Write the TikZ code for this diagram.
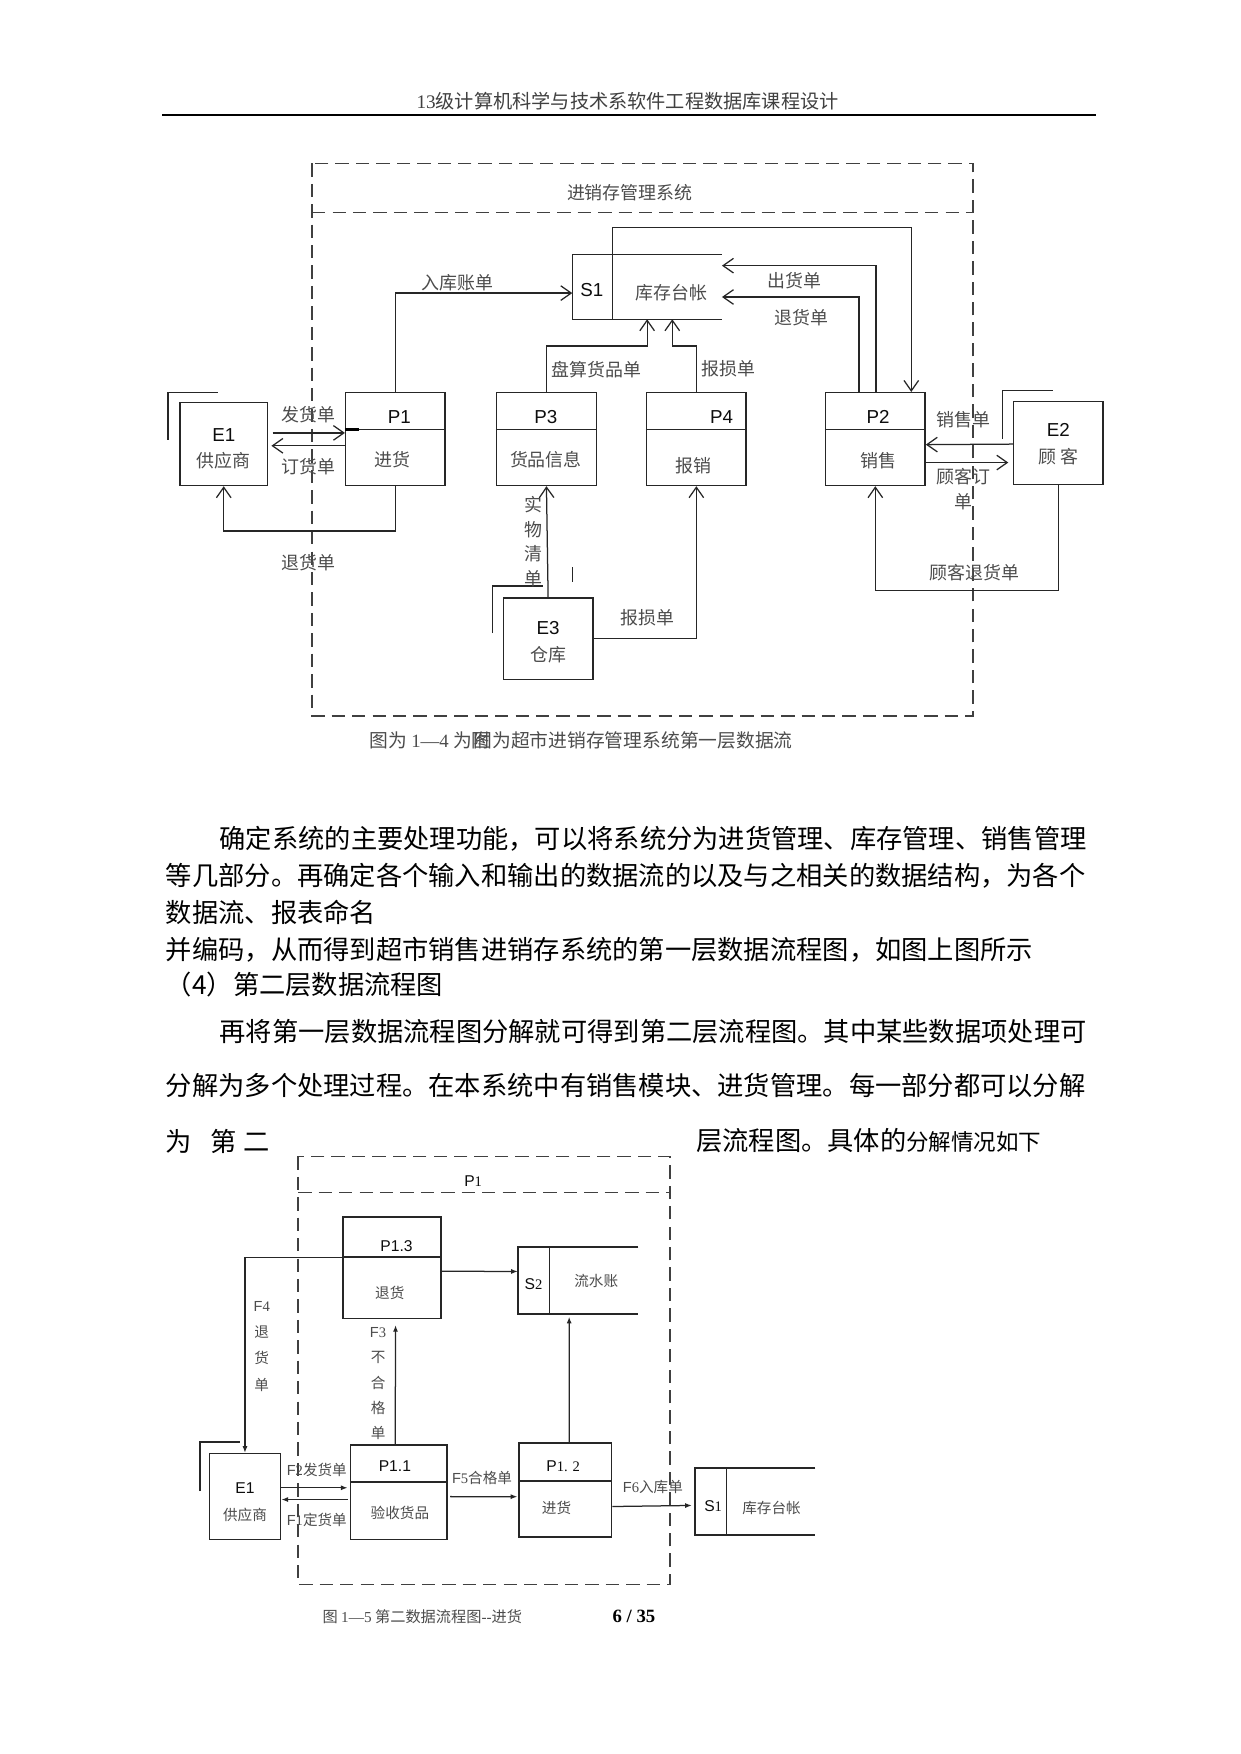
\documentclass[tikz,border=0pt]{standalone}
\usepackage{fontspec}
\setmainfont{Noto Sans CJK SC}
\newfontfamily\arial{Liberation Sans}
\newfontfamily\tnr{Liberation Serif}
\usetikzlibrary{arrows.meta,calc}

\newcommand\dfa{\fontsize{8.6pt}{10pt}\selectfont}
\newcommand\dfb{\fontsize{7pt}{8.5pt}\selectfont}
\newcommand\bodyf{\fontsize{12.6pt}{15pt}\selectfont}
\newcommand\sdig[1]{{\tnr\fontsize{7pt}{8pt}\selectfont #1}}

\tikzset{
  bound/.style={draw=black!75, line width=0.7pt, dash pattern=on 6.4pt off 3.4pt},
  line/.style={draw=black!85, line width=0.7pt},
  box/.style={draw=black!85, line width=0.7pt, inner sep=0pt},
  proc/.style={box, minimum width=47.75pt, minimum height=44.5pt},
  store/.style={inner sep=0pt, minimum width=71.4pt, minimum height=30.6pt},
  storeb/.style={inner sep=0pt, minimum width=57.4pt, minimum height=31.8pt},
  flow/.style={draw=black!85, line width=0.6pt, -{Straight Barb[length=5pt,width=7pt]}},
  flowb/.style={draw=black!85, line width=0.6pt, -{Latex[length=3.2pt,width=2.4pt]}},
  lbl/.style={inner sep=0pt, text=black!70, font=\dfa},
  lblb/.style={inner sep=0pt, text=black!70, font=\dfb},
  ida/.style={inner sep=0pt, text=black!95, font=\fontsize{9pt}{10pt}\selectfont\arial},
  idb/.style={inner sep=0pt, text=black!95, font=\fontsize{7.5pt}{9pt}\selectfont\arial},
  capt/.style={inner sep=0pt, anchor=west, text=black!70, font=\fontsize{9pt}{11pt}\selectfont},
  body/.style={inner sep=0pt, anchor=west, font=\bodyf},
}

\begin{document}
\begin{tikzpicture}[x=0.5365pt, y=-0.5365pt]
\fill[white] (0,0) rectangle (1109,1568);
\useasboundingbox (0,0) rectangle (1109,1568);

% 页眉
\node[inner sep=0pt, text=black!75, font=\fontsize{9.2pt}{11pt}\selectfont] (head) at (561,90) {{\tnr 13}级计算机科学与技术系软件工程数据库课程设计};
\draw[line width=1.1pt] (145,103) -- (980,103);

% 第一层数据流图
\draw[bound] (279,146) rectangle (870,640);
\draw[bound] (279,190) -- (870,190);
\node[lbl] (sys) at (563,172) {进销存管理系统};

% 库存台帐
\node[store] (s1) at (578.5,256.5) {};
\draw[line] (s1.north east) -- (s1.north west) -- (s1.south west) -- (s1.south east);
\draw[line] ($(s1.south west)+(36,0)$) -- ($(s1.north west)+(36,0)$);
\node[ida] (s1id) at (529,259) {S1};
\node[lbl] (s1txt) at (600,262) {库存台帐};

% 处理
\node[proc] (p1) at (353.5,392.5) {};
\node[proc] (p3) at (488.5,392.5) {};
\node[proc] (p4) at (622.5,392.5) {};
\node[proc] (p2) at (782.5,392.5) {};
\foreach \p in {p1,p3,p4,p2}
  \draw[line] ($(\p.north west)+(0,33.5)$) -- ($(\p.north east)+(0,33.5)$);

\node[ida] (p1id) at (357,373) {P1};
\node[lbl] (p1txt) at (351,411) {进货};
\node[ida] (p3id) at (488,373) {P3};
\node[lbl] (p3txt) at (488,411) {货品信息};
\node[ida] (p4id) at (645,373) {P4};
\node[lbl] (p4txt) at (620,416) {报销};
\node[ida] (p2id) at (785,373) {P2};
\node[lbl] (p2txt) at (785,412) {销售};

% 外部实体
\node[box, minimum width=41.8pt, minimum height=39.7pt] (e1) at (200,397) {};
\draw[line] (150,393) |- (195,351);
\node[ida] (e1id) at (200,389) {E1};
\node[lbl] (e1txt) at (200,412) {供应商};

\node[box, minimum width=42.9pt, minimum height=39.7pt] (e2) at (946,396) {};
\draw[line] (896,392) |- (941,349);
\node[ida] (e2id) at (946,384) {E2};
\node[lbl] (e2txt) at (946,408) {顾 客};

\node[box, minimum width=42.9pt, minimum height=38.9pt] (e3) at (490,571) {};
\draw[line] (440.5,566) |- (485,524);
\node[ida] (e3id) at (490,561) {E3};
\node[lbl] (e3txt) at (490,585) {仓库};

% 数据流
\draw[flow] (p1.north) |- ($(s1.west)+(0,5.5)$);
\node[lbl] (f-rk) at (409,253) {入库账单};
\draw[flow] ($(s1.north west)+(36,0)$) -- ++(0,-24) -| ($(p2.north east)+(-13,0)$);
\draw[flow] ($(p2.north)+(0.5,0)$) |- ($(s1.east)+(0,-19)$);
\node[lbl] (f-ch) at (710.5,251) {出货单};
\draw[flow] ($(p2.north)+(-14.5,0)$) |- ($(s1.east)+(0,9)$);
\node[lbl] (f-th) at (716.5,284) {退货单};
\draw[flow] (p3.north) -- ++(0,-41) -| (s1.south);
\node[lbl] (f-pd) at (533,330) {盘算货品单};
\draw[flow] (p4.north) -- ++(0,-41) -| ($(s1.south)+(22.5,0)$);
\node[lbl] (f-bs1) at (651,330) {报损单};

\draw[flow] ($(e1.east)+(4,-10)$) -- ($(p1.west)+(0,-5.5)$);
\node[lbl] (f-fh) at (276,371) {发货单};
\draw[flow] ($(p1.west)+(0,6)$) -- ($(e1.east)+(3,1.5)$);
\node[lbl] (f-dh) at (276,417) {订货单};
\draw[line width=1.4pt] ($(p1.north west)+(0,33.5)$) -- ++(13,0);
\draw[flow] (p1.south) -- ++(0,40) -| (e1.south);
\node[lbl] (f-th1) at (276,503) {退货单};

\draw[flow] (e3.north) -- (p3.south);
\node[lbl, align=center, font=\fontsize{8.6pt}{11.8pt}\selectfont] (f-sw) at (477,484) {实\\物\\清\\单};
\draw[line] (512,507) -- (512,520);
\draw[flow] (e3.east) -| (p4.south);
\node[lbl] (f-bs2) at (579,552) {报损单};

\draw[flow] ($(e2.west)+(0,1)$) -- ($(p2.east)+(0,5)$);
\node[lbl] (f-xs) at (861,375) {销售单};
\draw[flow] ($(p2.east)+(0,21)$) -- ($(e2.west)+(-4,17.5)$);
\node[lbl, align=center, font=\fontsize{8.6pt}{12pt}\selectfont] (f-gk) at (861,437) {顾客订\\单};
\draw[flow] (e2.south) -- ++(0,94) -| (p2.south);
\node[lbl] (f-gth) at (871,512) {顾客退货单};

% 图题
\node[capt] (cap1a) at (330,662) {图为 {\tnr 1—4} 为附};
\node[capt] (cap1b) at (423,662) {图为超市进销存管理系统第一层数据流};

% 正文
\node[body] (t1) at (196,750) {确定系统的主要处理功能，可以将系统分为进货管理、库存管理、销售管理};
\node[body] (t2) at (148,783) {等几部分。再确定各个输入和输出的数据流的以及与之相关的数据结构，为各个};
\node[body] (t3) at (148,816) {数据流、报表命名};
\node[body] (t4) at (148,849) {并编码，从而得到超市销售进销存系统的第一层数据流程图，如图上图所示};
\node[body] (t5) at (148,880.5) {（4）第二层数据流程图};
\node[body] (t6) at (196,922.5) {再将第一层数据流程图分解就可得到第二层流程图。其中某些数据项处理可};
\node[body] (t7) at (148,970.5) {分解为多个处理过程。在本系统中有销售模块、进货管理。每一部分都可以分解};
\node[body] (t8a) at (148,1020) {为\hspace{8.6pt}第\hspace{3.4pt}二};
\node[body] (t8b) at (622,1020) {层流程图。具体的{\fontsize{10.8pt}{13pt}\selectfont 分解情况如下}};

% 第二层数据流图
\draw[bound] (266.6,1033.7) rectangle (598.8,1416.4);
\draw[bound] (266.6,1066) -- (598.8,1066);
\node[idb] (p1top) at (423,1056) {P\sdig{1}};

\node[box, minimum width=47pt, minimum height=48.8pt] (p13) at (350.6,1133.4) {};
\node[box, minimum width=46.35pt, minimum height=45.4pt] (p11) at (356.6,1333.9) {};
\node[box, minimum width=44.3pt, minimum height=45.2pt] (p12) at (505.45,1331.95) {};
\foreach \p/\d in {p13/36.6,p11/34,p12/34.6}
  \draw[line] ($(\p.north west)+(0,\d)$) -- ($(\p.north east)+(0,\d)$);

\node[box, minimum width=34.2pt, minimum height=41.2pt] (e1b) at (219,1337.8) {};
\draw[line] (178.8,1333) |- (214.5,1288.9);

\node[storeb] (s2) at (516.8,1144.65) {};
\draw[line] (s2.north east) -- (s2.north west) -- (s2.south west) -- (s2.south east);
\draw[line] ($(s2.north west)+(28.3,0)$) -- ($(s2.south west)+(28.3,0)$);
\node[storeb] (s1b) at (675.05,1342.3) {};
\draw[line] (s1b.north east) -- (s1b.north west) -- (s1b.south west) -- (s1b.south east);
\draw[line] ($(s1b.north west)+(28.3,0)$) -- ($(s1b.south west)+(28.3,0)$);

\node[idb] (p13id) at (354.5,1114) {P1.3};
\node[lblb] (p13txt) at (348.5,1156) {退货};
\node[idb] (s2id) at (477,1148) {S\sdig{2}};
\node[lblb] (s2txt) at (533,1145) {流水账};
\node[idb] (p11id) at (353,1311) {P1.1};
\node[lblb] (p11txt) at (357.5,1352.4) {验收货品};
\node[idb] (p12id) at (503.5,1311) {P\sdig{1. 2}};
\node[lblb] (p12txt) at (497.5,1348) {进货};
\node[idb] (e1bid) at (219,1330) {E1};
\node[lblb] (e1btxt) at (219,1354) {供应商};
\node[idb] (s1bid) at (637.5,1346.4) {S\sdig{1}};
\node[lblb] (s1btxt) at (689.7,1348) {库存台帐};

\draw[flowb] ($(p13.north west)+(0,36.6)$) -| (e1b.north);
\node[lblb, align=center, font=\fontsize{7pt}{12.6pt}\selectfont] (f4) at (234,1203.5) {{\arial F}\sdig{4}\\退\\货\\单};
\draw[flowb] ($(p13.east)+(0,3)$) -- ($(s2.west)+(0,-8)$);
\draw[flowb] ($(p11.north)+(-3.3,0)$) -- ($(p13.south)+(3,5)$);
\node[lblb, align=center, font=\fontsize{7pt}{12.1pt}\selectfont] (f3) at (338,1237) {{\arial F}\sdig{3}\\不\\合\\格\\单};
\draw[flowb] ($(p12.north)+(3.35,0)$) -- ($(s2.south)+(-8,2.4)$);
\draw[flowb] ($(e1b.east)+(0,-7.8)$) -- ($(p11.west)+(-2,-3.9)$);
\node[lblb, anchor=west] (f2) at (256,1313.7) {{\arial F}\sdig{2}发货单};
\draw[flowb] ($(p11.west)+(-2,6.6)$) -- ($(e1b.east)+(0,2.7)$);
\node[lblb, anchor=west] (f1) at (256,1358.3) {{\arial F}\sdig{1}定货单};
\draw[flowb] ($(p11.east)+(2,4)$) -- ($(p12.west)+(-1,6)$);
\node[lblb, anchor=west] (f5) at (403.7,1321) {{\arial F}\sdig{5}合格单};
\draw[flowb] ($(p12.east)+(0,14.8)$) -- ($(s1b.west)+(-2.7,3.5)$);
\node[lblb, anchor=west] (f6) at (556.5,1329) {{\arial F}\sdig{6}入库单};

% 图题与页码
\node[capt, font=\fontsize{7.3pt}{9pt}\selectfont] (cap2) at (288,1445) {图 {\tnr 1—5} 第二数据流程图{\tnr -{}-}进货};
\node[inner sep=0pt, font=\tnr\bfseries\fontsize{9pt}{11pt}\selectfont] (pg) at (566.7,1445) {6 / 35};

\end{tikzpicture}
\end{document}
